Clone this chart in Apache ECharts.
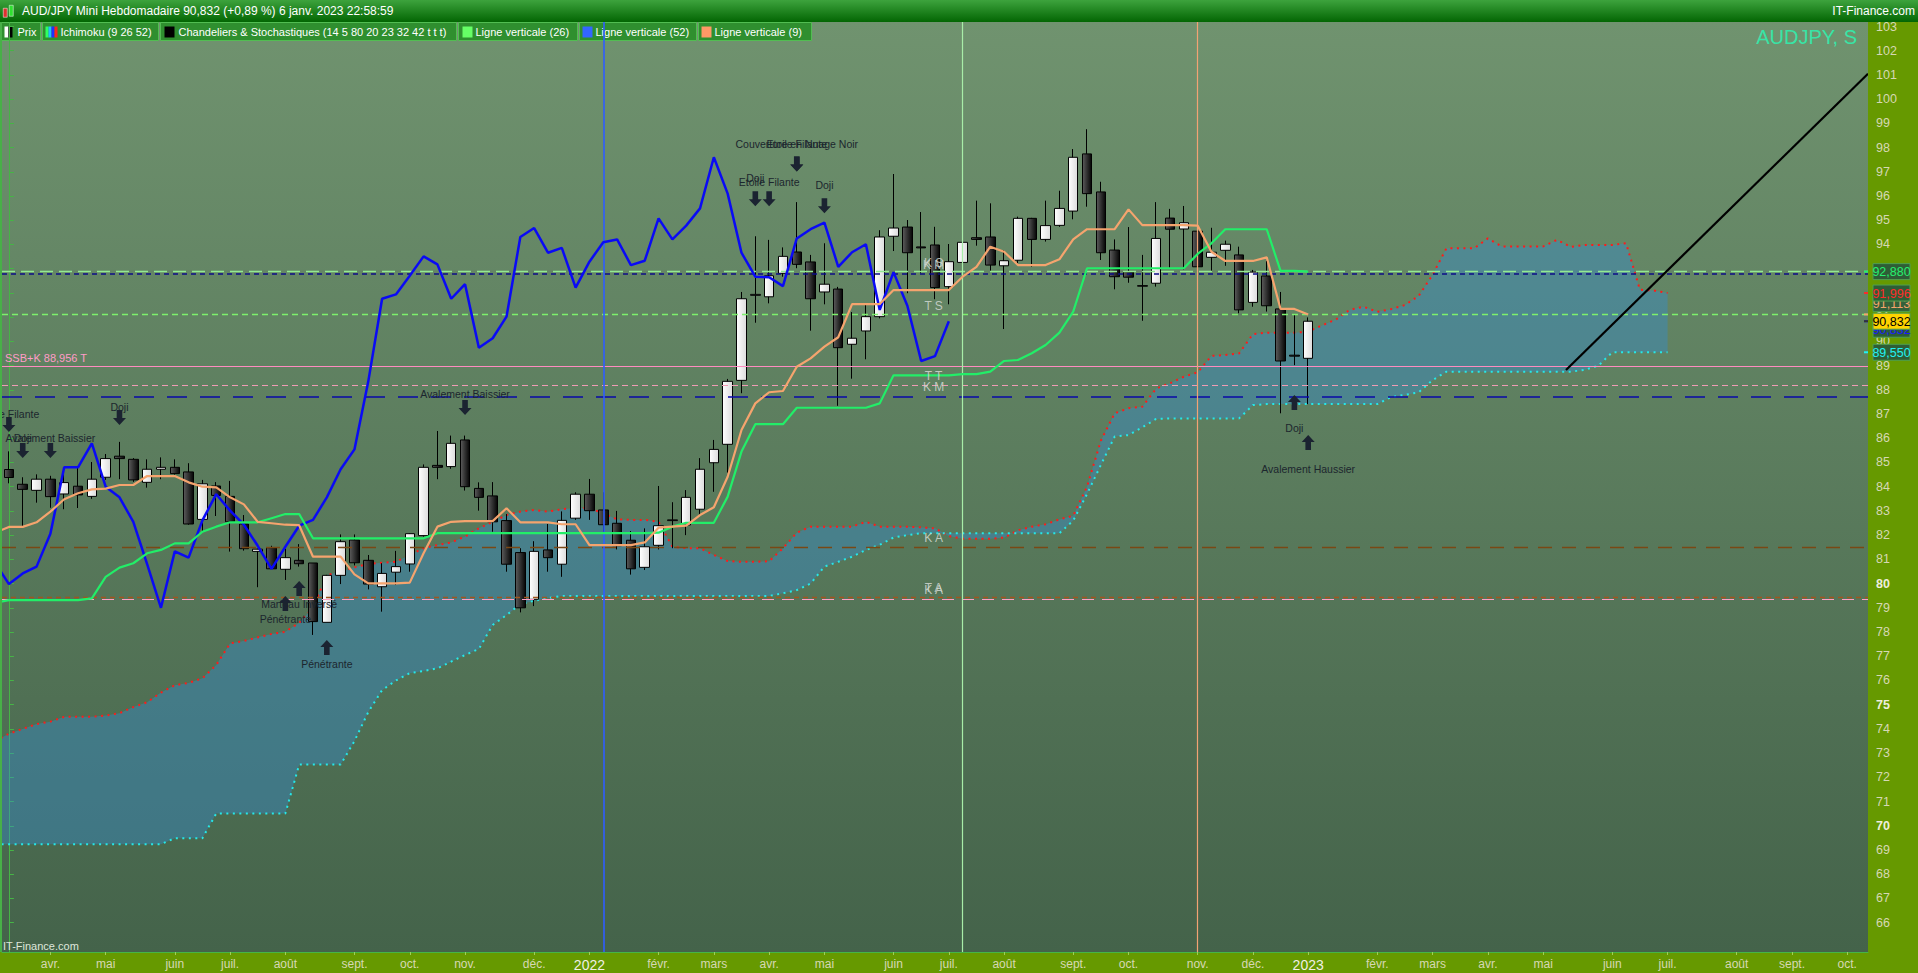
<!DOCTYPE html>
<html lang="fr">
<head>
<meta charset="utf-8">
<title>AUD/JPY Mini Hebdomadaire</title>
<script src="https://cdn.jsdelivr.net/npm/echarts@6.0.0/dist/echarts.min.js"></script>
<style>
html,body{margin:0;padding:0;background:#669900;overflow:hidden;}
#chart{width:1918px;height:973px;}
</style>
</head>
<body>
<div id="chart"></div>
<script>
// ================= DATA =================
const firstWeekMonday = '2021-03-15';   // Monday of first weekly candle
const weekCount = 135;                   // candles + future weeks shown
const monthNames = ['janv.','févr.','mars','avr.','mai','juin','juil.','août','sept.','oct.','nov.','déc.'];

const opens  = [84.71,84.10,83.85,84.31,83.70,84.02,83.60,84.39,85.26,85.13,84.18,84.72,84.80,84.61,82.65,84.03,83.60,82.46,81.33,81.48,80.59,80.96,80.85,78.40,80.34,81.80,80.96,79.87,80.47,80.81,81.98,84.88,84.83,85.93,83.93,83.62,82.60,81.28,79.35,81.39,80.80,82.70,83.69,83.04,82.49,81.79,80.67,81.58,82.60,82.42,83.07,84.99,85.75,88.39,91.90,91.84,92.81,93.69,93.28,92.04,92.16,89.88,90.43,91.02,94.34,94.72,93.90,93.98,92.26,93.26,94.28,94.31,93.12,93.35,95.08,94.21,94.79,95.38,97.74,96.17,93.77,92.88,92.30,92.40,95.09,94.64,94.55,93.47,93.76,93.57,91.61,92.70,91.34,89.43,89.30];
const closes = [84.38,83.89,84.31,83.59,84.17,83.66,84.31,85.16,85.16,84.28,84.72,84.80,84.54,82.46,84.12,83.64,82.55,81.44,81.42,80.61,81.07,80.82,78.43,80.34,81.73,80.86,79.98,80.42,80.70,82.06,84.80,84.80,85.79,84.00,83.56,82.55,80.80,79.00,81.33,81.07,82.61,83.69,83.01,82.43,81.56,80.61,81.52,82.39,82.63,83.56,84.72,85.54,88.35,91.76,91.94,92.71,93.51,93.18,91.76,92.36,89.74,90.13,91.02,94.31,94.68,93.66,93.86,92.22,93.29,94.09,94.21,93.15,93.33,95.08,94.21,94.78,95.49,97.60,96.10,93.66,92.67,92.65,92.28,94.25,94.63,94.90,93.08,93.68,94.01,91.30,92.86,91.47,89.19,89.39,90.832];
const highs  = [85.46,84.39,84.51,84.45,84.80,84.77,85.02,85.35,85.85,85.18,85.13,85.21,85.13,84.97,84.28,84.19,84.24,82.83,81.44,81.56,81.44,81.63,80.85,80.36,82.03,82.03,81.18,80.84,81.35,82.08,84.92,86.30,86.11,86.11,84.18,84.19,82.87,81.46,81.75,82.46,82.98,83.77,84.32,83.77,83.00,82.17,82.28,84.03,83.36,83.86,85.18,85.93,88.45,92.04,94.34,94.19,93.88,95.75,93.57,94.05,92.25,91.21,91.54,94.59,96.91,95.01,95.34,94.73,94.02,94.30,95.81,95.70,93.77,95.15,95.10,95.81,96.22,97.94,98.76,96.59,94.21,94.72,93.57,95.75,95.47,95.59,95.22,94.69,94.16,93.91,92.95,93.32,92.04,91.09,90.99];
const lows   = [84.14,82.38,83.34,83.13,83.07,83.12,83.50,84.28,84.31,84.20,83.96,84.31,84.50,82.43,82.18,82.79,81.32,81.36,79.85,80.61,80.15,80.70,77.88,78.40,79.98,80.75,79.76,78.84,79.94,80.49,81.94,84.31,84.74,83.84,83.01,82.14,80.49,78.81,79.07,80.49,80.28,82.63,82.63,82.14,81.41,80.37,80.56,81.41,81.46,82.00,82.83,83.79,84.58,87.86,90.77,91.57,92.67,93.02,90.44,91.53,87.34,88.46,89.26,90.95,93.73,91.99,92.81,91.74,91.53,91.99,93.95,92.91,90.51,93.22,93.08,94.12,94.73,95.04,95.56,93.36,92.15,92.42,90.85,92.26,93.00,92.97,92.63,92.91,93.12,91.16,91.43,91.23,87.03,89.02,87.41];

// Ichimoku lines, first value = week index -1 (just left of the first candle)
const ichiStart = -1;
const tenkan = [82.10,
 82.34,82.34,82.53,82.97,83.48,83.73,83.89,83.92,84.07,84.07,
 84.44,84.44,84.44,84.18,84.00,83.97,83.56,83.27,82.55,82.49,
 82.43,82.41,81.11,81.11,81.11,80.38,80.01,80.01,80.01,80.04,
 81.25,82.35,82.55,82.58,82.58,82.58,83.11,82.53,82.53,82.53,
 82.45,82.45,81.59,81.59,81.59,81.59,81.70,82.31,82.35,82.39,
 82.83,83.15,84.41,86.34,87.44,87.90,87.95,88.95,89.30,89.78,
 90.17,91.54,91.54,91.54,92.12,92.12,92.12,92.12,92.12,92.67,
 93.08,93.91,93.70,93.15,93.15,93.15,93.39,94.21,94.63,94.63,
 94.63,95.45,94.80,94.80,94.80,94.80,94.78,93.70,93.32,93.32,
 93.32,93.47,91.34,91.34,91.113];
const kijun = [79.20,
 79.32,79.32,79.32,79.32,79.32,79.32,79.39,80.28,80.66,80.84,
 81.25,81.39,81.66,81.66,82.14,82.35,82.53,82.53,82.53,82.70,
 82.87,82.87,81.87,81.87,81.87,81.87,81.87,81.87,81.87,81.87,
 81.87,82.08,82.08,82.08,82.08,82.08,82.08,82.08,82.08,82.08,
 82.08,82.08,82.08,82.08,82.08,82.08,82.08,82.10,82.35,82.51,
 82.51,82.51,83.59,85.45,86.58,86.58,86.58,87.26,87.26,87.26,
 87.26,87.26,87.26,87.44,88.60,88.60,88.60,88.60,88.60,88.65,
 88.65,88.75,89.19,89.23,89.51,89.85,90.36,91.23,93.02,93.02,
 93.02,93.02,93.02,93.02,93.02,93.02,93.61,94.05,94.63,94.63,
 94.63,94.63,92.91,92.91,92.88];
const ssa = [73.50,
 73.80,74.00,74.20,74.30,74.50,74.50,74.50,74.55,74.65,74.90,
 75.10,75.50,75.80,75.90,76.09,76.64,77.53,77.63,77.78,77.92,
 78.01,78.38,79.00,80.35,80.49,80.67,80.81,80.86,80.90,81.18,
 81.46,81.59,81.70,81.94,82.28,82.55,82.83,82.97,83.04,82.97,
 83.07,83.13,83.11,82.90,82.65,82.63,82.63,82.55,81.52,81.46,
 81.46,81.18,80.93,80.90,80.90,80.92,81.46,82.10,82.35,82.35,
 82.35,82.35,82.55,82.35,82.35,82.35,82.32,82.28,81.96,81.85,
 81.85,81.85,81.90,82.20,82.35,82.45,82.65,82.80,84.00,85.90,
 87.03,87.24,87.30,88.05,88.27,88.54,88.72,89.40,89.44,89.50,
 90.30,90.36,90.36,90.36,90.40,90.66,90.90,91.30,91.43,91.22,
 91.33,91.50,91.88,92.75,93.84,93.84,93.84,94.25,93.92,93.92,
 93.92,93.92,94.19,93.90,93.98,93.98,93.98,94.05,92.13,92.10,
 91.996];
const ssb = [69.24,
 69.24,69.24,69.24,69.24,69.24,69.24,69.24,69.24,69.24,69.24,
 69.24,69.24,69.49,69.49,69.49,70.51,70.51,70.51,70.51,70.51,
 70.51,72.53,72.53,72.53,72.53,73.50,74.70,75.60,76.00,76.30,
 76.39,76.50,76.78,77.05,77.30,78.29,78.70,79.15,79.29,79.40,
 79.49,79.49,79.49,79.49,79.49,79.49,79.49,79.49,79.49,79.49,
 79.49,79.49,79.49,79.49,79.49,79.49,79.60,79.73,80.00,80.70,
 80.90,81.11,81.39,81.60,81.90,82.00,82.08,82.08,82.08,82.08,
 82.08,82.08,82.08,82.08,82.08,82.08,82.08,82.60,83.70,84.90,
 86.07,86.13,86.45,86.80,86.82,86.82,86.82,86.82,86.82,86.82,
 87.37,87.41,87.41,87.41,87.41,87.41,87.41,87.41,87.41,87.41,
 87.70,87.79,87.90,88.40,88.75,88.75,88.75,88.75,88.75,88.75,
 88.75,88.75,88.75,88.75,88.82,89.00,89.55,89.55,89.55,89.55,
 89.55];
const chikouShift = 26;   // lagging span = close plotted 26 weeks back

// horizontal levels
const hLineLevels = [92.89, 92.81, 91.12, 88.956, 88.19, 87.73, 81.50, 79.43, 79.35];
// vertical lines (week index)
const vLineIdx = [43, 69, 86];
// price tags on the right axis (drawn in this order)
const tagValues = [91.113, 92.880, 91.996, 90.832, 89.550, 90.832];
const tagTexts  = ['91,113','92,880','91,996','90,832','89,550','90,832'];
// level names drawn near week 67
const levelLabelIdx  = 66.9;
const levelLabelText = ['K S','K M','T S','T T','K M','K A','T A','K A'];
const levelLabelVal  = [93.22, 93.15, 91.47, 88.57, 88.10, 81.87, 79.80, 79.74];
// trend line (week index, price)
const trendStart = [112.65, 88.82];
const trendEnd   = [134.5, 101.05];
// candle pattern annotations
const patternIdx   = [0, 1, 3, 8, 20, 21, 23, 33, 54, 55, 57, 57, 59, 93, 94];
const patternName  = ['Etoile Filante','Doji','Avalement Baissier','Doji','Pénétrante','Marteau Inversé','Pénétrante','Avalement Baissier','Doji','Etoile Filante','Couverture en Nuage Noir','Etoile Filante','Doji','Doji','Avalement Haussier'];
const patternUp    = [0,0,0,0,1,1,1,0,0,0,0,0,0,1,1];
const patternTip   = [86.26,85.18,85.18,86.55,79.49,80.11,77.67,86.96,95.58,95.58,97.01,97.01,95.29,87.79,86.13];
const patternLabel = [87.01,86.02,86.02,87.30,78.55,79.16,76.69,87.81,96.76,96.59,98.14,98.14,96.47,86.44,84.74];
// y axis ticks
const yTicks = [66,67,68,69,70,71,72,73,74,75,76,77,78,79,80,81,82,83,84,85,86,87,88,89,90,91,92,93,94,95,96,97,98,99,100,101,102,103];
const yBold = [70,75,80];

// ================= BUILD =================
const SANS = '"Liberation Sans",Arial,sans-serif';
const DAY = 86400000;
const t0 = Date.parse(firstWeekMonday + 'T00:00:00Z');
const weekDates = [];
for (let k = 0; k < weekCount; k++) weekDates.push(new Date(t0 + k * 7 * DAY));
const categories = weekDates.map(d => d.toISOString().slice(0, 10));
const isMonthStart = (idx) => weekDates[idx] && weekDates[idx].getUTCDate() <= 7;

const candleData = opens.map((o, i) => [o, closes[i], lows[i], highs[i]]);
const toXY = (arr) => arr.map((v, k) => [k + ichiStart, v]);
const chikouData = [];
for (let k = ichiStart; k + chikouShift < closes.length; k++) chikouData.push([k, closes[k + chikouShift]]);

const G = echarts.graphic;
const plotBg = new G.LinearGradient(0, 0, 0, 1, [{offset:0,color:'#70936f'},{offset:1,color:'#44634a'}]);
const upFill = new G.LinearGradient(0, 0, 1, 0, [{offset:0,color:'#ffffff'},{offset:1,color:'#dcdcdc'}]);
const dnFill = new G.LinearGradient(0, 0, 1, 0, [{offset:0,color:'#5c5c5c'},{offset:1,color:'#050505'}]);

const hLineStyles = [
  {color:'#93e993', type:[13,6], width:1.3},
  {color:'#0c0c86', type:[5,4], width:1.5},
  {color:'#7ef06c', type:[6,4], width:1.3},
  {color:'#ff8cc0', type:'solid', width:1.2},
  {color:'#f09cb4', type:[6,4], width:1.2},
  {color:'#0808a8', type:[20,13], width:1.5},
  {color:'#7a4814', type:[14,10], width:1.3},
  {color:'#a0561e', type:[5,4], width:1.3},
  {color:'#ff9ec4', type:[12,8], width:1.2}
];
const vLineColors = ['#2f5dff', '#a8eda8', '#f2a274'];
const vLineWidths = [1.6, 1.2, 1.2];
const tagStyles = [
  {color:'#f4a46c', bg:'#33603a', dy:-11},
  {color:'#27ee6e', bg:'#2e5d36', dy:0},
  {color:'#ff2a2a', bg:'#2e5d36', dy:0},
  {color:'#1a1aff', bg:'#2e5d36', dy:8},
  {color:'#22f2f2', bg:'#2e5d36', dy:0},
  {color:'#000000', bg:'#ffd400', dy:0}
];

const markLineData = [];
hLineLevels.forEach((v, k) => {
  const item = {yAxis: v, lineStyle: hLineStyles[k], label: {show: false}};
  if (v === 88.956) {
    item.label = {show:true, position:'insideStartTop', formatter:'SSB+K 88,956 T', color:'#ff9cc8', fontSize:11, fontFamily:SANS, distance:3};
  }
  markLineData.push(item);
});
vLineIdx.forEach((x, k) => markLineData.push({xAxis: x, lineStyle: {color: vLineColors[k], type:'solid', width: vLineWidths[k], opacity: 1}, label:{show:false}}));

function arrowPts(x, y, up) {
  const d = up ? 1 : -1;
  return [[x, y], [x + 6.5, y + 7 * d], [x + 2.8, y + 7 * d], [x + 2.8, y + 15 * d],
          [x - 2.8, y + 15 * d], [x - 2.8, y + 7 * d], [x - 6.5, y + 7 * d]];
}

const chart = echarts.init(document.getElementById('chart'), null, {renderer:'svg'});
chart.setOption({
  animation: false,
  backgroundColor: '#669900',
  grid: {left: 2, right: 50, top: 22, bottom: 21, show: true, backgroundColor: plotBg, borderWidth: 0},
  xAxis: [{
    type: 'category', data: categories, boundaryGap: true,
    axisLine: {show: true, lineStyle: {color: '#46b446', width: 1}},
    axisTick: {show: true, interval: (i) => isMonthStart(i), alignWithLabel: true, length: 3, lineStyle: {color: '#9ccf5a'}},
    axisLabel: {
      interval: (i) => isMonthStart(i), margin: 6, color: '#d6d8b4', fontSize: 12, fontFamily: SANS,
      formatter: (val) => {
        const d = new Date(val + 'T00:00:00Z');
        const m = d.getUTCMonth();
        return m === 0 ? '{y|' + d.getUTCFullYear() + '}' : monthNames[m];
      },
      rich: {y: {fontSize: 14, color: '#f0f0e4', fontFamily: SANS}}
    },
    splitLine: {show: false}
  }, {
    type: 'value', min: -0.5, max: weekCount - 0.5, show: false
  }],
  yAxis: [{
    type: 'value', position: 'right', min: 64.789, max: 103.186, scale: true,
    splitLine: {show: false},
    axisLine: {show: true, lineStyle: {color: '#46b446'}},
    axisTick: {show: true, length: 5, customValues: yTicks, lineStyle: {color: '#46b446'}},
    axisLabel: {
      customValues: yTicks, margin: 8, color: '#d6d8b4', fontSize: 12.5, fontFamily: SANS,
      formatter: (v) => yBold.indexOf(v) >= 0 ? '{b|' + v + '}' : String(v),
      rich: {b: {fontWeight: 'bold', color: '#eeeedd', fontSize: 12.5, fontFamily: SANS}}
    }
  }],
  series: [
    { // Kumo fill
      type: 'custom', name: 'kumo', xAxisIndex: 1, yAxisIndex: 0, z: 1, silent: true,
      data: [[0, 80]],
      renderItem: (params, api) => {
        const pts = [];
        for (let k = 0; k < ssa.length; k++) pts.push(api.coord([k + ichiStart, ssa[k]]));
        for (let k = ssb.length - 1; k >= 0; k--) pts.push(api.coord([k + ichiStart, ssb[k]]));
        const cs = params.coordSys;
        return {type: 'polygon', shape: {points: pts}, style: {fill: 'rgba(50,140,212,0.40)'},
                clipPath: {type: 'rect', shape: {x: cs.x, y: cs.y, width: cs.width, height: cs.height}}};
      }
    },
    { type: 'line', name: 'SSA', xAxisIndex: 1, data: toXY(ssa), symbol: 'none', z: 2, silent: true,
      lineStyle: {color: '#ff1a1a', width: 2, type: [2, 4.5]} },
    { type: 'line', name: 'SSB', xAxisIndex: 1, data: toXY(ssb), symbol: 'none', z: 2, silent: true,
      lineStyle: {color: '#25e8e8', width: 2, type: [2, 4.5]} },
    { type: 'candlestick', name: 'AUD/JPY', xAxisIndex: 0, data: candleData, barWidth: 10, z: 3,
      itemStyle: {color: upFill, color0: dnFill, borderColor: '#000', borderColor0: '#000', borderWidth: 1},
      markLine: {silent: true, symbol: ['none', 'none'], animation: false, label: {show: false}, data: markLineData}
    },
    { type: 'line', name: 'Chikou', xAxisIndex: 1, data: chikouData, symbol: 'none', z: 6, silent: true,
      lineStyle: {color: '#0a0af5', width: 2.5} },
    { type: 'line', name: 'Kijun', xAxisIndex: 1, data: toXY(kijun), symbol: 'none', z: 6, silent: true,
      lineStyle: {color: '#22ee68', width: 2.2} },
    { type: 'line', name: 'Tenkan', xAxisIndex: 1, data: toXY(tenkan), symbol: 'none', z: 6, silent: true,
      lineStyle: {color: '#f5a46e', width: 2.2} },
    { // trend line
      type: 'custom', name: 'trend', xAxisIndex: 1, z: 7, silent: true, data: [[trendStart[0], trendStart[1]]],
      renderItem: (params, api) => {
        const a = api.coord(trendStart), b = api.coord(trendEnd);
        const cs = params.coordSys;
        return {type: 'line', shape: {x1: a[0], y1: a[1], x2: b[0], y2: b[1]}, style: {stroke: '#000', lineWidth: 2.2},
                clipPath: {type: 'rect', shape: {x: cs.x, y: cs.y, width: cs.width, height: cs.height}}};
      }
    },
    { // level names
      type: 'custom', name: 'levels', xAxisIndex: 1, z: 7, silent: true,
      data: levelLabelVal.map(v => [levelLabelIdx, v]),
      renderItem: (params, api) => {
        const p = api.coord([api.value(0), api.value(1)]);
        return {type: 'text', style: {text: levelLabelText[params.dataIndex], x: p[0], y: p[1], align: 'center', verticalAlign: 'middle',
                fill: 'rgba(210,216,210,0.85)', font: '12px ' + SANS}};
      }
    },
    { // candle pattern annotations
      type: 'custom', name: 'patterns', xAxisIndex: 1, z: 8, silent: true,
      data: patternIdx.map((i, k) => [i, patternTip[k], patternLabel[k]]),
      renderItem: (params, api) => {
        const k = params.dataIndex;
        const tip = api.coord([api.value(0), api.value(1)]);
        const lab = api.coord([api.value(0), api.value(2)]);
        return {type: 'group', children: [
          {type: 'polygon', shape: {points: arrowPts(tip[0], tip[1], patternUp[k] === 1)}, style: {fill: '#1b2331'}},
          {type: 'text', style: {text: patternName[k], x: lab[0], y: lab[1], align: 'center', verticalAlign: 'middle',
                fill: '#1c262e', font: '10.5px ' + SANS}}
        ]};
      }
    },
    { // price tags on the right axis
      type: 'custom', name: 'tags', xAxisIndex: 1, z: 20, silent: true, clip: false,
      data: tagValues.map(v => [weekCount - 0.5, v]),
      renderItem: (params, api) => {
        const k = params.dataIndex;
        const s = tagStyles[k];
        const p = api.coord([api.value(0), api.value(1)]);
        const y = p[1] + s.dy;
        const x = p[0] + 5;
        return {type: 'group', children: [
          {type: 'rect', shape: {x: x, y: y - 8, width: 37, height: 16}, style: {fill: s.bg, stroke: '#4fa04f', lineWidth: 1}},
          {type: 'line', shape: {x1: p[0] - 4, y1: p[1], x2: p[0], y2: p[1]}, style: {stroke: s.color === '#000000' ? '#333' : s.color, lineWidth: 2}},
          {type: 'text', style: {text: tagTexts[k], x: x + 18.5, y: y + 0.5, align: 'center', verticalAlign: 'middle',
                fill: s.color, font: '12.5px ' + SANS}}
        ]};
      }
    }
  ],
  graphic: [
    {type: 'rect', z: 50, left: 0, top: 22, shape: {width: 2, height: 930}, style: {fill: '#48b048'}},
    // title bar
    {type: 'rect', z: 100, left: 0, top: 0, shape: {width: 1918, height: 22},
     style: {fill: new G.LinearGradient(0, 0, 0, 1, [{offset:0,color:'#3da33d'},{offset:1,color:'#036603'}])}},
    {type: 'rect', z: 101, left: 3, top: 8, shape: {width: 4, height: 9}, style: {fill: '#e03030', stroke: '#fff', lineWidth: 0.5}},
    {type: 'rect', z: 101, left: 9, top: 5, shape: {width: 4, height: 11}, style: {fill: '#30e030', stroke: '#fff', lineWidth: 0.5}},
    {type: 'text', z: 101, left: 22, top: 5, style: {text: 'AUD/JPY Mini Hebdomadaire 90,832 (+0,89 %) 6 janv. 2023 22:58:59', fill: '#ffffff', font: '12px ' + SANS}},
    {type: 'text', z: 101, right: 3, top: 5, style: {text: 'IT-Finance.com', fill: '#ffffff', font: '12px ' + SANS}},
    // legend bar
    {type: 'group', z: 100, left: 0, top: 22, children: [
      {type: 'rect', shape: {x: 0, y: 0, width: 40, height: 18}, style: {fill: '#2f8f2f', stroke: '#52bd52', lineWidth: 1}},
      {type: 'rect', shape: {x: 4, y: 4, width: 4, height: 11}, style: {fill: '#ffffff'}},
      {type: 'rect', shape: {x: 8, y: 4, width: 4, height: 11}, style: {fill: '#000000'}},
      {type: 'text', style: {x: 17, y: 4, text: 'Prix', fill: '#fff', font: '11px ' + SANS}},

      {type: 'rect', shape: {x: 42, y: 0, width: 116, height: 18}, style: {fill: '#2f8f2f', stroke: '#52bd52', lineWidth: 1}},
      {type: 'rect', shape: {x: 45, y: 4, width: 3, height: 11}, style: {fill: '#30ff60'}},
      {type: 'rect', shape: {x: 48, y: 4, width: 3, height: 11}, style: {fill: '#20c0ff'}},
      {type: 'rect', shape: {x: 51, y: 4, width: 3, height: 11}, style: {fill: '#2030ff'}},
      {type: 'rect', shape: {x: 54, y: 4, width: 3, height: 11}, style: {fill: '#ff2020'}},
      {type: 'text', style: {x: 60, y: 4, text: 'Ichimoku (9 26 52)', fill: '#fff', font: '11px ' + SANS}},

      {type: 'rect', shape: {x: 160, y: 0, width: 296, height: 18}, style: {fill: '#2f8f2f', stroke: '#52bd52', lineWidth: 1}},
      {type: 'rect', shape: {x: 164, y: 4, width: 10, height: 11}, style: {fill: '#000000'}},
      {type: 'text', style: {x: 178, y: 4, text: 'Chandeliers & Stochastiques (14 5 80 20 23 32 42 t t t)', fill: '#fff', font: '11px ' + SANS}},

      {type: 'rect', shape: {x: 458, y: 0, width: 119, height: 18}, style: {fill: '#2f8f2f', stroke: '#52bd52', lineWidth: 1}},
      {type: 'rect', shape: {x: 462, y: 4, width: 10, height: 11}, style: {fill: '#66ff66'}},
      {type: 'text', style: {x: 475, y: 4, text: 'Ligne verticale (26)', fill: '#fff', font: '11px ' + SANS}},

      {type: 'rect', shape: {x: 579, y: 0, width: 117, height: 18}, style: {fill: '#2f8f2f', stroke: '#52bd52', lineWidth: 1}},
      {type: 'rect', shape: {x: 582, y: 4, width: 10, height: 11}, style: {fill: '#3366ff'}},
      {type: 'text', style: {x: 595, y: 4, text: 'Ligne verticale (52)', fill: '#fff', font: '11px ' + SANS}},

      {type: 'rect', shape: {x: 698, y: 0, width: 113, height: 18}, style: {fill: '#2f8f2f', stroke: '#52bd52', lineWidth: 1}},
      {type: 'rect', shape: {x: 701, y: 4, width: 10, height: 11}, style: {fill: '#ff9966'}},
      {type: 'text', style: {x: 714, y: 4, text: 'Ligne verticale (9)', fill: '#fff', font: '11px ' + SANS}}
    ]},
    {type: 'text', z: 60, right: 61, top: 27, style: {text: 'AUDJPY, S', fill: '#38e4a6', font: '20px ' + SANS}},
    {type: 'text', z: 60, left: 3, top: 940, style: {text: 'IT-Finance.com', fill: '#dfe6dc', font: '11px ' + SANS}}
  ]
});
</script>
</body>
</html>
